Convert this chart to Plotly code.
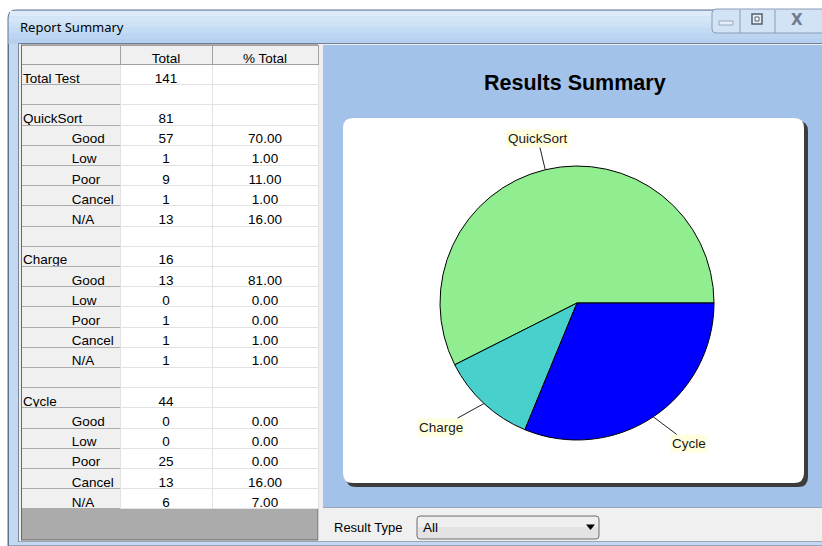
import math
import plotly.graph_objects as go

W, H = 822, 546

# ---------------- data ----------------
total_test = 141
groups = ["QuickSort", "Charge", "Cycle"]
group_totals = [81, 16, 44]
result_types = ["Good", "Low", "Poor", "Cancel", "N/A"]
quicksort_counts = [57, 1, 9, 1, 13]
quicksort_pct = [70.00, 1.00, 11.00, 1.00, 16.00]
charge_counts = [13, 0, 1, 1, 1]
charge_pct = [81.00, 0.00, 0.00, 1.00, 1.00]
cycle_counts = [0, 0, 25, 13, 6]
cycle_pct = [0.00, 0.00, 0.00, 16.00, 7.00]
header_labels = ["", "Total", "% Total"]
slice_colors = ["#90EE90", "#48D1CC", "#0000FF"]

# ---------------- helpers ----------------
def fx(x):
    return x / W

def fy(y):
    return 1 - y / H

FONT = "Liberation Sans, Arial, sans-serif"

shapes = []
annotations = []

def rect(x0, y0, x1, y1, fill, line=None, lw=1, layer="below"):
    shapes.append(dict(type="rect", xref="paper", yref="paper",
                       x0=fx(x0), x1=fx(x1), y0=fy(y1), y1=fy(y0),
                       fillcolor=fill,
                       line=dict(color=line if line else fill, width=lw if line else 0),
                       layer=layer))

def line(x0, y0, x1, y1, color, w=1, layer="below"):
    shapes.append(dict(type="line", xref="paper", yref="paper",
                       x0=fx(x0), x1=fx(x1), y0=fy(y0), y1=fy(y1),
                       line=dict(color=color, width=w), layer=layer))

def rrect_path(x0, y0, x1, y1, r):
    p = lambda x, y: f"{fx(x):.6f},{fy(y):.6f}"
    return (f"M {p(x0 + r, y0)} L {p(x1 - r, y0)} Q {p(x1, y0)} {p(x1, y0 + r)} "
            f"L {p(x1, y1 - r)} Q {p(x1, y1)} {p(x1 - r, y1)} L {p(x0 + r, y1)} "
            f"Q {p(x0, y1)} {p(x0, y1 - r)} L {p(x0, y0 + r)} Q {p(x0, y0)} {p(x0 + r, y0)} Z")

def rrect(x0, y0, x1, y1, r, fill, line=None, lw=1, layer="below"):
    shapes.append(dict(type="path", xref="paper", yref="paper",
                       path=rrect_path(x0, y0, x1, y1, r), fillcolor=fill,
                       line=dict(color=line if line else fill, width=lw if line else 0),
                       layer=layer))

def text(x, y, s, size=13, color="black", xanchor="left", bold=False, family=FONT):
    annotations.append(dict(xref="paper", yref="paper", x=fx(x), y=fy(y), text=f"<b>{s}</b>" if bold else s,
                            showarrow=False, xanchor=xanchor, yanchor="middle",
                            font=dict(family=family, size=size, color=color)))

# ---------------- window chrome ----------------
shapes.append(dict(type="path", xref="paper", yref="paper",
                   path=(f"M {fx(8)},{fy(546)} L {fx(8)},{fy(18)} Q {fx(8)},{fy(10)} {fx(16)},{fy(10)} "
                         f"L {fx(823)},{fy(10)} L {fx(823)},{fy(546)} Z"),
                   fillcolor="#C3D9F1", line=dict(color="#5F738D", width=1), layer="below"))
bands = ["#DCEAF9", "#D4E5F8", "#CCE0F6", "#C4DBF4", "#BCD5F2", "#B6D1F0"]
for i, c in enumerate(bands):
    rect(10 if i == 0 else 9, 11 + i * 5.5, 822, 11 + (i + 1) * 5.5, c)
text(18, 27, "Report Summary", size=13, family="Noto Sans, Segoe UI, sans-serif")

# caption buttons
rrect(712, 9, 830, 33, 4, "#D2E3F6", line="#8A9CB4")
line(740, 10, 740, 33, "#8A9CB4")
line(775, 10, 775, 33, "#8A9CB4")
rect(719, 21, 733, 25, "#E6EEF7", line="#9AA8BA")
rect(752, 14, 762, 24, "#E6EEF7", line="#555F6E", lw=1.5)
rect(755, 17, 759, 21, "#FFFFFF", line="#555F6E", lw=1)
text(797, 20, "X", size=15, color="#6E7C8E", xanchor="center", bold=True, family="DejaVu Sans, sans-serif")

# client area
rect(18, 43, 823, 542, "#F0F0F0")
line(18, 43.5, 823, 43.5, "#6E7F95")
line(18, 541.5, 823, 541.5, "#9AA6B5")

rect(21, 45, 318, 540, "#ABABAB", line="#696969")
rect(318.5, 45, 323, 541, "#F0F0F0")
rect(323, 45, 823, 507, "#A3C2E9")
line(323, 507.5, 823, 507.5, "#97A4B4")
rect(323, 508, 823, 541, "#F0F0F0")

# left frame drawn above the grid (the grid's first column starts under it)
rect(8.5, 44, 18, 542, "#C3D9F1", layer="above")
line(8.5, 44, 8.5, 546, "#5F738D", layer="above")
line(18.5, 43, 18.5, 542, "#7A8899", layer="above")
rect(19, 44, 21, 541, "#F0F0F0", layer="above")
line(21.5, 45, 21.5, 540, "#696969", layer="above")

# chart box with shadow
rrect(346, 121, 808, 487, 10, "#3C3C3C")
rrect(343, 118, 804, 483, 10, "#FFFFFF")

text(575, 83, "Results Summary", size=21.5, xanchor="center", bold=True)

# bottom bar: Result Type selector
text(332, 527, "Result Type", size=13)
rrect(417, 516, 599, 539, 3, "#E3E3E3", line="#707070")
rect(418, 517, 598, 527, "#EFEFEF")
text(421, 527, "All", size=13.5)
shapes.append(dict(type="path", xref="paper", yref="paper",
                   path=f"M {fx(586)},{fy(524.5)} L {fx(595)},{fy(524.5)} L {fx(590.5)},{fy(530)} Z",
                   fillcolor="black", line=dict(width=0), layer="above"))

# ---------------- table ----------------
IND = "\u00a0" * 13
col0, col1, col2 = ["Total Test", ""], [str(total_test), ""], ["", ""]
group_rows = [(quicksort_counts, quicksort_pct), (charge_counts, charge_pct), (cycle_counts, cycle_pct)]
for gi, (g, gt) in enumerate(zip(groups, group_totals)):
    counts, pcts = group_rows[gi]
    col0.append(g); col1.append(str(gt)); col2.append("")
    for rt, c, p in zip(result_types, counts, pcts):
        col0.append(IND + rt); col1.append(str(c)); col2.append(f"{p:.2f}")
    if gi < len(groups) - 1:
        col0.append(""); col1.append(""); col2.append("")

n_rows = len(col0)
row_h = 20.2
head_h = 19.5
tbl_top = 45
tbl_bottom = tbl_top + head_h + n_rows * row_h + 30

table = go.Table(
    domain=dict(x=[fx(15), fx(318)], y=[fy(tbl_bottom), fy(tbl_top)]),
    columnwidth=[105, 92, 106],
    header=dict(values=header_labels, height=head_h,
                fill_color="#F0F0F0", line=dict(color="#A0A0A0", width=1),
                align=["center", "center", "center"],
                font=dict(family=FONT, size=13.5, color="black")),
    cells=dict(values=[col0, col1, col2], height=row_h,
               fill_color=["#F0F0F0", "white", "white"],
               line=dict(color=["#ACACAC", "#E2E2E2", "#E2E2E2"], width=1),
               align=["left", "center", "center"],
               font=dict(family=FONT, size=13.5, color="black")),
)

# ---------------- pie ----------------
cx, cy, R = 577, 303, 137
tot = sum(group_totals)
# first slice runs counterclockwise from 3 o'clock
rotation = 90 - 360 * group_totals[0] / tot
pie = go.Pie(
    labels=groups, values=group_totals, sort=False,
    direction="counterclockwise", rotation=rotation,
    marker=dict(colors=slice_colors, line=dict(color="black", width=1)),
    textinfo="none", hoverinfo="label+value+percent", showlegend=False,
    domain=dict(x=[fx(cx - R), fx(cx + R)], y=[fy(cy + R), fy(cy - R)]),
)

cum = 0
L = 32
for g, v in zip(groups, group_totals):
    theta = 2 * math.pi * (cum + v / 2) / tot
    cum += v
    c, s = math.cos(theta), math.sin(theta)
    hx, hy = cx + R * c, cy - R * s
    hw = len(g) * 3.5
    ax = L * c + (hw if c > 0.3 else (-hw if c < -0.3 else 0))
    ay = -L * s
    annotations.append(dict(xref="paper", yref="paper", x=fx(hx), y=fy(hy), ax=ax, ay=ay,
                            text=g, showarrow=True, arrowhead=0, arrowwidth=1, arrowcolor="#222222",
                            bgcolor="#FFFFE0", borderpad=1,
                            font=dict(family=FONT, size=13.5, color="#1A1A1A")))

fig = go.Figure([table, pie])
fig.update_layout(width=W, height=H, margin=dict(l=0, r=0, t=0, b=0),
                  paper_bgcolor="white", plot_bgcolor="white",
                  shapes=shapes, annotations=annotations,
                  xaxis=dict(visible=False), yaxis=dict(visible=False))
fig.write_html("out.html", config={"displayModeBar": False},
               post_script="document.body.style.margin='0';")
